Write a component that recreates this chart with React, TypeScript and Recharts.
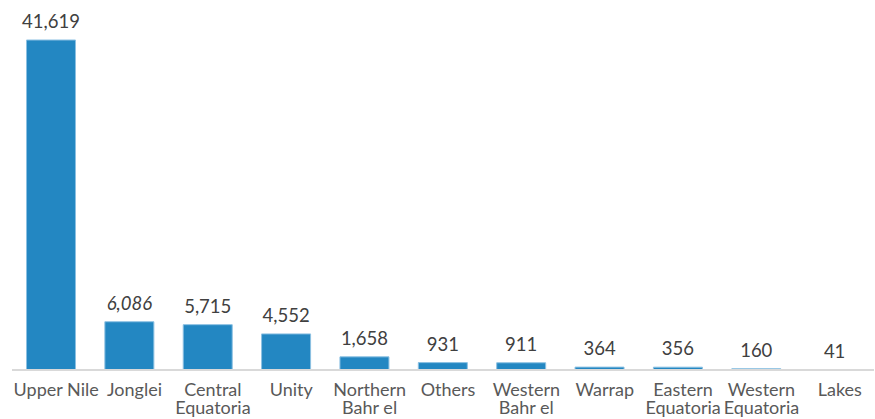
import React from "react";
import { Bar, BarChart, LabelList, Text, XAxis, YAxis } from "recharts";

const regions = [
    "Upper Nile",
    "Jonglei",
    "Central Equatoria",
    "Unity",
    "Northern Bahr el Ghazal",
    "Others",
    "Western Bahr el Ghazal",
    "Warrap",
    "Eastern Equatoria",
    "Western Equatoria",
    "Lakes",
];
const cases = [41619, 6086, 5715, 4552, 1658, 931, 911, 364, 356, 160, 41];
// the Jonglei label is set in italics in the source
const italicLabels = ["Jonglei"];

const data = regions.map((name, i) => ({ name, value: cases[i] }));

const BAR_COLOR = "#2387c2";
const FONT = "Lato, 'Open Sans', sans-serif";

function RegionTick(props: any) {
    const { x, y, payload } = props;
    return (
        <Text
            x={x + 5}
            y={y}
            dy={5}
            width={92}
            textAnchor="middle"
            verticalAnchor="start"
            lineHeight={18}
            fill="#595959"
            style={{ fontFamily: FONT, fontSize: 18 }}
        >
            {payload.value}
        </Text>
    );
}

function ValueLabel(props: any) {
    const { x, y, width, value, index } = props;
    const italic = italicLabels.includes(regions[index]);
    return (
        <text
            x={x + width / 2}
            y={y - 12}
            textAnchor="middle"
            fill="#404040"
            fontFamily={FONT}
            fontSize={18.5}
            fontStyle={italic ? "italic" : "normal"}
        >
            {value.toLocaleString("en-US")}
        </text>
    );
}

export default function App() {
    return (
        <div style={{ position: "absolute", left: 0, top: 0, background: "#fff" }}>
            <BarChart
                width={875}
                height={419}
                data={data}
                margin={{ top: 40, right: 1, bottom: 0, left: 12 }}
                barCategoryGap="18.5%"
            >
                <YAxis hide domain={[0, 41619]} />
                <XAxis
                    dataKey="name"
                    interval={0}
                    height={49}
                    tickLine={false}
                    axisLine={{ stroke: "#d9d9d9", strokeWidth: 2 }}
                    tick={<RegionTick />}
                />
                <Bar
                    dataKey="value"
                    fill={BAR_COLOR}
                    stroke="#8cc0e2"
                    strokeWidth={1}
                    isAnimationActive={false}
                >
                    <LabelList dataKey="value" content={<ValueLabel />} />
                </Bar>
            </BarChart>
        </div>
    );
}
